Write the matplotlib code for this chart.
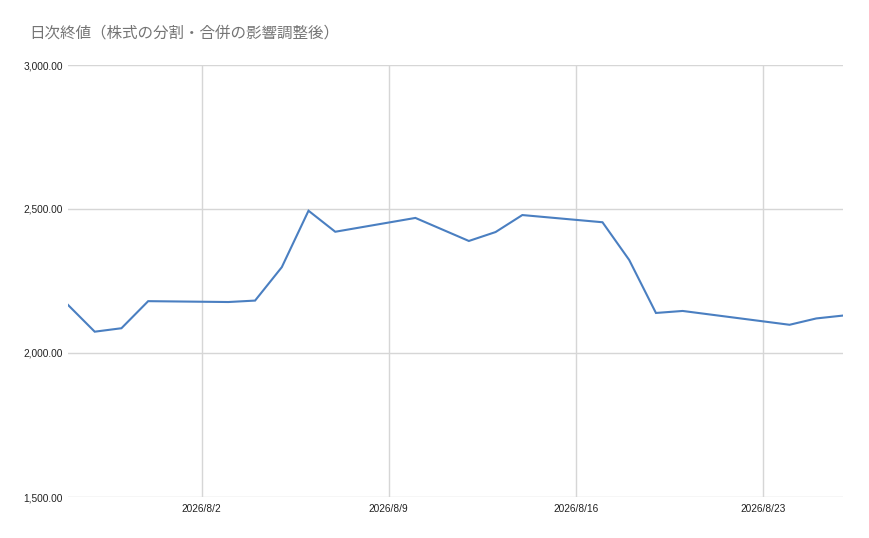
import matplotlib
matplotlib.use("Agg")
import matplotlib.pyplot as plt
import matplotlib.ticker as mticker
from datetime import date

plt.rcParams['font.family'] = ['Noto Sans CJK JP', 'DejaVu Sans']

dates = ["2026-07-28", "2026-07-29", "2026-07-30", "2026-07-31",
         "2026-08-03", "2026-08-04", "2026-08-05", "2026-08-06", "2026-08-07",
         "2026-08-10", "2026-08-12", "2026-08-13", "2026-08-14",
         "2026-08-17", "2026-08-18", "2026-08-19", "2026-08-20",
         "2026-08-24", "2026-08-25", "2026-08-26"]
closes = [2167, 2074, 2086, 2180,
          2177, 2182, 2298, 2494, 2421,
          2469, 2389, 2420, 2479,
          2454, 2323, 2139, 2146,
          2098, 2120, 2130]
tick_dates = ["2026-08-02", "2026-08-09", "2026-08-16", "2026-08-23"]
tick_labels = ["2026/8/2", "2026/8/9", "2026/8/16", "2026/8/23"]
y_ticks = [1500, 2000, 2500, 3000]
title = "日次終値（株式の分割・合併の影響調整後）"

x = [date.fromisoformat(d) for d in dates]
xt = [date.fromisoformat(d) for d in tick_dates]

fig = plt.figure(figsize=(8.7, 5.38), dpi=100)
ax = fig.add_axes([68/870, 1-497/538, (843-68)/870, (497-65)/538])

ax.plot(x, closes, color='#4a7fc1', lw=1.5, solid_joinstyle='miter', zorder=3)

ax.set_xlim(x[0], x[-1])
ax.set_ylim(y_ticks[0], y_ticks[-1])
ax.set_yticks(y_ticks)
ax.yaxis.set_major_formatter(mticker.FuncFormatter(lambda v, p: f"{v:,.2f}"))
ax.set_xticks(xt)
ax.set_xticklabels(tick_labels)

ax.grid(True, color='#d6d6d6', lw=1.0, zorder=0)
for s in ax.spines.values():
    s.set_visible(False)
ax.tick_params(axis='both', length=0, labelsize=7.3, colors='#222222')
ax.tick_params(axis='y', pad=3.5)
ax.tick_params(axis='x', pad=5)
for lab in ax.get_xticklabels() + ax.get_yticklabels():
    lab.set_family(['Liberation Sans', 'DejaVu Sans'])

fig.text(29/870, 1-33/538, title, fontsize=11.2, color='#757575', va='center', ha='left')

fig.savefig("out.png", dpi=100, facecolor='white')
